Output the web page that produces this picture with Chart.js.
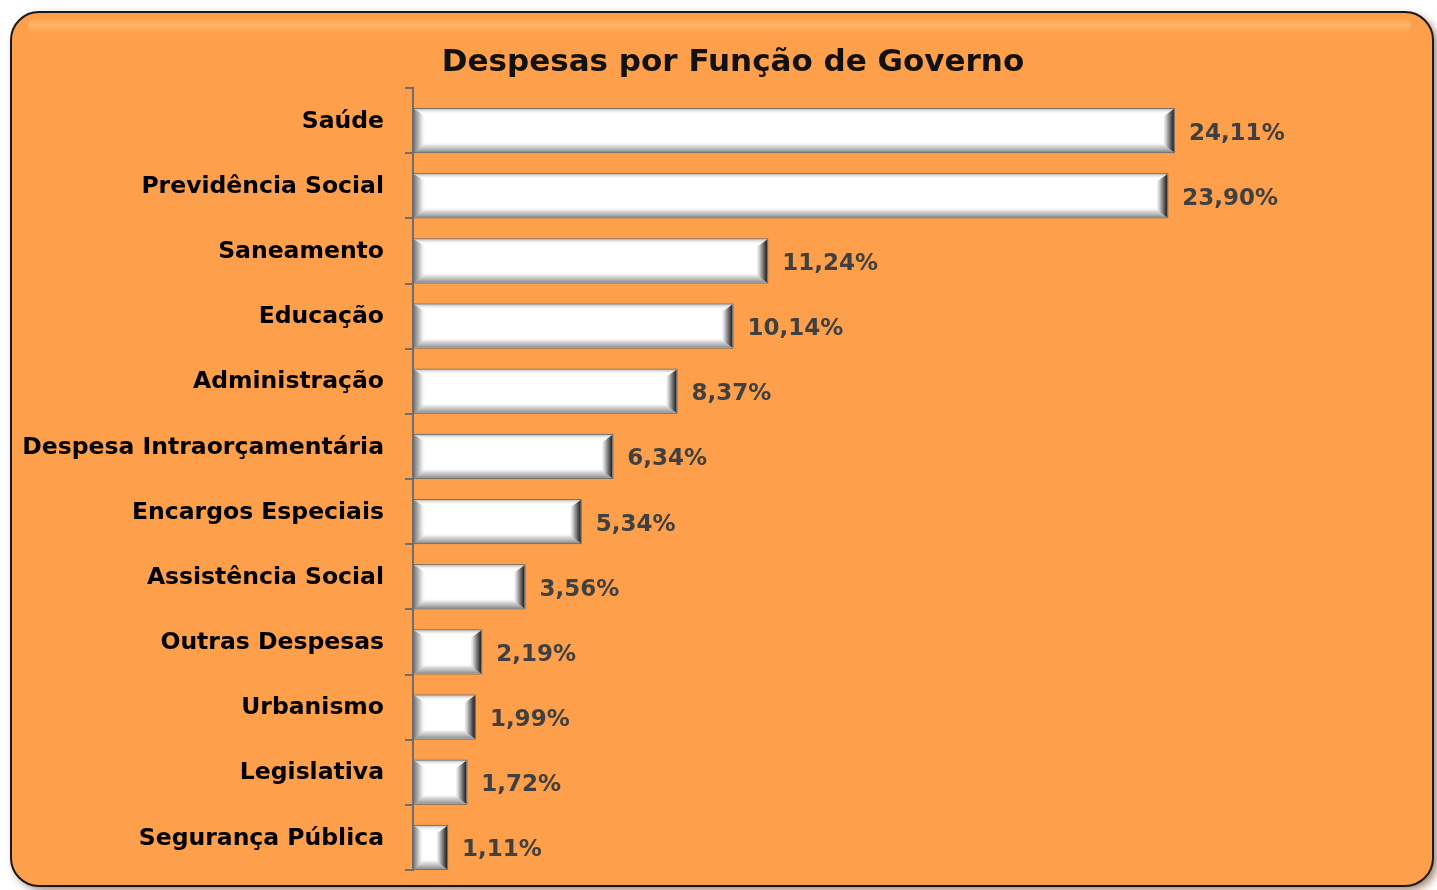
<!DOCTYPE html>
<html>
<head>
<meta charset="utf-8">
<script src="https://cdn.jsdelivr.net/npm/chart.js@4/dist/chart.umd.min.js"></script>
<style>
  html, body { margin: 0; padding: 0; background: #ffffff; }
  #wrap { width: 1437px; height: 890px; position: relative; }
</style>
</head>
<body>
<div id="wrap"><canvas id="chart"></canvas></div>
<script>
// Chart data
const categories = [
    "Saúde", "Previdência Social", "Saneamento", "Educação", "Administração",
    "Despesa Intraorçamentária", "Encargos Especiais", "Assistência Social",
    "Outras Despesas", "Urbanismo", "Legislativa", "Segurança Pública"
];
const shares = [24.11, 23.90, 11.24, 10.14, 8.37, 6.34, 5.34, 3.56, 2.19, 1.99, 1.72, 1.11];
const chartTitle = "Despesas por Função de Governo";

const FONT = "'DejaVu Sans', Verdana, sans-serif";
const BAR_SHIFT = 10; // bars sit a bit low in each row, as in the original

// orange card behind everything + title
const cardPlugin = {
    id: "card",
    beforeDraw(chart) {
        const c = chart.ctx;
        const W = chart.width, H = chart.height;
        c.save();
        c.fillStyle = "#ffffff";
        c.fillRect(0, 0, W, H);
        // shadow
        c.shadowColor = "rgba(90,40,0,0.6)";
        c.shadowBlur = 8;
        c.shadowOffsetX = 4;
        c.shadowOffsetY = 4;
        c.beginPath();
        c.roundRect(11, 12, W - 15, H - 16, 28);
        c.fillStyle = "#fd9f4b";
        c.fill();
        c.shadowColor = "transparent";
        c.lineWidth = 2;
        c.strokeStyle = "#1a1a1a";
        c.stroke();
        // soft highlight along the top
        const g = c.createLinearGradient(0, 16, 0, 34);
        g.addColorStop(0, "rgba(255,205,130,0)");
        g.addColorStop(0.5, "rgba(255,205,130,0.45)");
        g.addColorStop(1, "rgba(255,205,130,0)");
        c.fillStyle = g;
        c.beginPath();
        c.roundRect(28, 18, W - 54, 16, 8);
        c.fill();
        c.restore();

        c.save();
        c.font = "bold 31px " + FONT;
        c.fillStyle = "#111111";
        c.textAlign = "center";
        c.textBaseline = "middle";
        c.fillText(chartTitle, 733, 63);
        c.restore();
    }
};

// bevelled white bars + value labels
const bevelPlugin = {
    id: "bevel",
    beforeDatasetDraw(chart, args) {
        const meta = args.meta;
        const c = chart.ctx;
        c.save();
        meta.data.forEach((bar, i) => {
            const x0 = bar.base, x1 = bar.x;
            const y0 = bar.y - bar.height / 2 + BAR_SHIFT;
            const y1 = bar.y + bar.height / 2 + BAR_SHIFT;
            const w = x1 - x0, h = y1 - y0;
            // outline
            c.fillStyle = "#6b6b6b";
            c.fillRect(x0, y0, w, h);
            c.fillStyle = "#ffffff";
            c.fillRect(x0 + 1, y0 + 1, w - 2, h - 2);
            // top edge
            let g = c.createLinearGradient(0, y0, 0, y0 + 6);
            g.addColorStop(0, "#a8a8a8");
            g.addColorStop(1, "rgba(255,255,255,0)");
            c.fillStyle = g;
            c.fillRect(x0 + 1, y0 + 1, w - 2, 6);
            // bottom edge
            g = c.createLinearGradient(0, y1 - 11, 0, y1);
            g.addColorStop(0, "rgba(255,255,255,0)");
            g.addColorStop(0.35, "#dcdcdc");
            g.addColorStop(0.7, "#b0b0b0");
            g.addColorStop(1, "#7a7a7a");
            c.fillStyle = g;
            c.fillRect(x0 + 1, y1 - 11, w - 2, 10);
            // left edge
            const lw = Math.min(13, w * 0.3);
            g = c.createLinearGradient(x0, 0, x0 + lw, 0);
            g.addColorStop(0, "#6e6e6e");
            g.addColorStop(0.5, "#c4c4c4");
            g.addColorStop(1, "rgba(255,255,255,0)");
            c.fillStyle = g;
            c.beginPath();
            c.moveTo(x0 + 1, y0 + 1);
            c.lineTo(x0 + 1 + lw, y0 + 1 + lw * 0.6);
            c.lineTo(x0 + 1 + lw, y1 - 1 - lw * 0.6);
            c.lineTo(x0 + 1, y1 - 1);
            c.closePath();
            c.fill();
            // right edge (dark)
            const rw = Math.min(10, w * 0.3);
            g = c.createLinearGradient(x1 - rw, 0, x1, 0);
            g.addColorStop(0, "#e6e6e6");
            g.addColorStop(0.4, "#8a8a8a");
            g.addColorStop(0.75, "#3a3a3a");
            g.addColorStop(1, "#141414");
            c.fillStyle = g;
            c.beginPath();
            c.moveTo(x1 - 1, y0 + 1);
            c.lineTo(x1 - 1 - rw, y0 + 1 + rw * 0.7);
            c.lineTo(x1 - 1 - rw, y1 - 1 - rw * 0.7);
            c.lineTo(x1 - 1, y1 - 1);
            c.closePath();
            c.fill();

            // value label
            c.font = "bold 23px " + FONT;
            c.fillStyle = "#404040";
            c.textAlign = "left";
            c.textBaseline = "middle";
            const txt = shares[i].toFixed(2).replace(".", ",") + "%";
            c.fillText(txt, x1 + 14, bar.y + BAR_SHIFT + 3);
        });
        c.restore();
        return false;
    }
};

const canvas = document.getElementById("chart");
const ctx = canvas.getContext("2d");

new Chart(ctx, {
    type: "bar",
    data: {
        labels: categories,
        datasets: [{
            data: shares,
            backgroundColor: "#ffffff",
            barPercentage: 0.69,
            categoryPercentage: 1.0
        }]
    },
    options: {
        indexAxis: "y",
        responsive: true,
        maintainAspectRatio: false,
        animation: false,
        layout: { padding: { top: 88, bottom: 20, left: 0, right: 76 } },
        plugins: {
            legend: { display: false },
            tooltip: { enabled: false },
            title: { display: false }
        },
        scales: {
            x: {
                display: false,
                min: 0,
                max: 30
            },
            y: {
                afterFit(scale) {
                    scale.width = 413;
                    scale.paddingTop = 0;
                    scale.paddingBottom = 0;
                },
                grid: {
                    offset: true,
                    drawOnChartArea: false,
                    drawTicks: true,
                    tickLength: 8,
                    color: "#6e6e6e",
                    lineWidth: 2
                },
                border: { color: "#6e6e6e", width: 2 },
                ticks: {
                    padding: 21,
                    labelOffset: 1,
                    color: "#000000",
                    font: { family: FONT, size: 23.5, weight: "bold" }
                }
            }
        }
    },
    plugins: [cardPlugin, bevelPlugin]
});
</script>
</body>
</html>
